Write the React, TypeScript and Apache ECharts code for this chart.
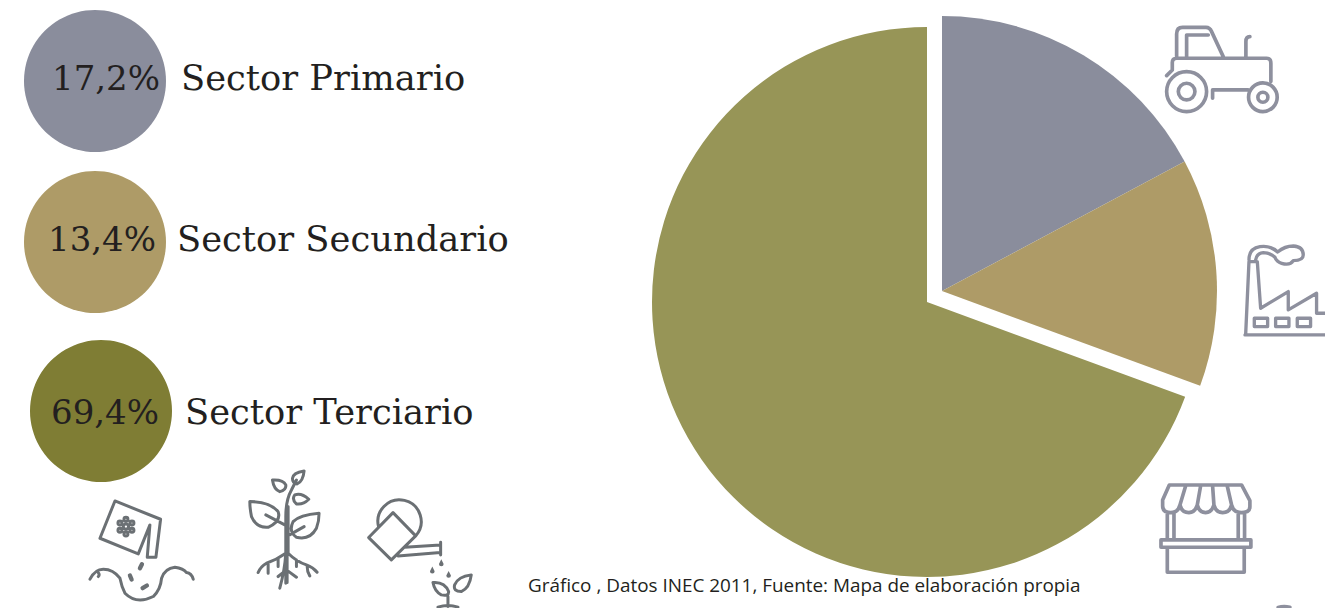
import React, { useEffect, useRef } from "react";
import * as echarts from "echarts";

const sectors = ["Sector Primario", "Sector Secundario", "Sector Terciario"];
const shares = [17.2, 13.4, 69.4];
const sliceColors = ["#8A8D9C", "#AE9B67", "#979557"];
const badgeColors = ["#8A8D9C", "#AE9B67", "#7F7D34"];
const caption = "Gráfico , Datos INEC 2011, Fuente: Mapa de elaboración propia";

const badgeX = [95, 95, 101];
const badgeY = [81, 242, 411];
const pctX = [106, 102, 105];
const labelX = [181, 177, 185];
const labelY = [77, 238, 411];

const ICON_GREY = "#8E909E";
const ICON_DARK = "#6B7074";

const tractorD =
  "M110,140 V72 Q110,52 128,52 H198 Q210,52 215,65 L250,140 M140,140 V75 H205 " +
  "M80,197 L97,180 V158 Q97,145 110,145 H380 Q393,145 393,160 V215 " +
  "M318,140 V95 Q318,80 330,80 M325,240 H218 V265 " +
  "M200,245 A60,60 0 1 1 80,245 A60,60 0 1 1 200,245 Z " +
  "M165,245 A25,25 0 1 1 115,245 A25,25 0 1 1 165,245 Z " +
  "M412,262 A43,43 0 1 1 326,262 A43,43 0 1 1 412,262 Z " +
  "M384,262 A15,15 0 1 1 354,262 A15,15 0 1 1 384,262 Z";

const factoryD =
  "M62,315 L72,95 H97 L107,235 L190,185 V240 L275,190 V250 H300 M60,315 H300 " +
  "M88,265 H128 V290 H88 Z M152,265 H192 V290 H152 Z M217,265 H257 V290 H217 Z " +
  "M72,90 Q72,55 105,50 Q135,45 158,66 Q180,48 205,48 Q235,50 235,75 Q235,92 205,92 " +
  "Q195,108 170,100 Q155,95 150,82 Q135,68 115,68 Q95,70 92,90";

const shopD =
  "M88,45 H305 L330,92 V110 Q330,128 305,128 Q280,128 275,105 Q270,128 248,128 Q228,128 222,105 " +
  "Q215,128 197,128 Q178,128 172,105 Q165,128 147,128 Q125,128 120,105 Q115,128 92,128 Q68,128 68,108 V90 Z " +
  "M137,48 L120,105 M182,48 L172,105 M218,48 L222,105 M262,48 L275,105 " +
  "M82,130 V210 M102,130 V210 M295,130 V210 M314,130 V210 " +
  "M63,210 H333 V232 H63 Z M82,232 V307 H313 V232 M415,413 Q430,408 450,412";

const seedsD =
  "M135,153 L272,208 L258,322 H232 L240,225 L205,312 L90,265 Z " +
  "M60,388 Q75,358 100,358 Q130,358 150,385 Q155,410 165,430 Q200,465 250,440 Q272,420 275,385 " +
  "Q285,355 315,352 Q340,355 350,368 Q365,370 370,388 M85,368 Q90,375 85,380 " +
  "M168,222 A8,8 0 1 1 168,238 A8,8 0 1 1 168,222 Z " +
  "M168,202 A6,6 0 1 1 168,214 A6,6 0 1 1 168,202 Z M168,246 A6,6 0 1 1 168,258 A6,6 0 1 1 168,246 Z " +
  "M186,213 A6,6 0 1 1 186,225 A6,6 0 1 1 186,213 Z M150,213 A6,6 0 1 1 150,225 A6,6 0 1 1 150,213 Z " +
  "M186,235 A6,6 0 1 1 186,247 A6,6 0 1 1 186,235 Z M150,235 A6,6 0 1 1 150,247 A6,6 0 1 1 150,235 Z";

const seedGrainsD = "M210,355 L216,343 M180,377 L185,389 M218,415 L231,407";

const plantD =
  "M648,400 V200 Q648,150 665,120 L680,90 M655,310 V170 " +
  "M540,155 Q600,155 625,185 Q635,215 595,232 Q560,235 545,200 Q540,175 540,155 Z M588,195 L645,225 " +
  "M748,190 Q690,195 670,215 Q655,245 680,262 Q720,272 740,235 Q748,215 748,190 Z M703,230 L650,260 " +
  "M703,63 Q670,68 668,85 Q668,100 682,102 Q700,95 703,63 Z M608,90 Q640,88 648,105 Q650,120 630,125 Q612,118 608,90 Z " +
  "M717,148 Q695,128 675,135 Q665,148 680,162 Q700,165 717,148 Z " +
  "M648,310 Q620,330 590,340 Q572,350 565,368 M655,310 Q680,335 710,345 Q730,352 742,367 " +
  "M648,310 Q645,360 630,415 M652,310 V398 M625,380 L650,360 L680,382 " +
  "M595,342 V370 M625,325 V350 M680,330 V350 M712,348 Q712,365 720,378";

const canD =
  "M970,188 L1038,258 L965,330 L897,263 Z M927,232 A65,65 0 1 1 1038,258 " +
  "M1005,292 L1112,285 M985,318 L1112,308 M1113,277 V315 " +
  "M1135,470 V440 M1090,398 Q1125,395 1137,425 Q1138,440 1115,435 Q1095,425 1090,398 Z " +
  "M1205,375 Q1165,380 1155,405 Q1150,425 1175,425 Q1200,415 1205,375 Z M1105,472 Q1135,462 1165,472";

const dropsD =
  "M1115,328 L1122,342 A7,7 0 1 1 1108,342 Z M1088,350 L1095,364 A7,7 0 1 1 1081,364 Z M1137,363 L1144,377 A7,7 0 1 1 1130,377 Z";

echarts.graphic.registerShape("tractorIcon", echarts.graphic.extendPath(tractorD, {}));
echarts.graphic.registerShape("factoryIcon", echarts.graphic.extendPath(factoryD, {}));
echarts.graphic.registerShape("shopIcon", echarts.graphic.extendPath(shopD, {}));
echarts.graphic.registerShape("seedsIcon", echarts.graphic.extendPath(seedsD, {}));
echarts.graphic.registerShape("grainsIcon", echarts.graphic.extendPath(seedGrainsD, {}));
echarts.graphic.registerShape("plantIcon", echarts.graphic.extendPath(plantD, {}));
echarts.graphic.registerShape("canIcon", echarts.graphic.extendPath(canD, {}));
echarts.graphic.registerShape("dropsIcon", echarts.graphic.extendPath(dropsD, {}));

const icon = (type: string, ox: number, oy: number, stroke: string, lineWidth = 9, fill = "none", lineCap = "round") => ({
  type,
  x: ox,
  y: oy,
  scaleX: 1 / 3,
  scaleY: 1 / 3,
  silent: true,
  style: { stroke, fill, lineWidth, lineCap, lineJoin: "round" },
});

export default function App() {
  const ref = useRef<HTMLDivElement>(null);

  useEffect(() => {
    document.body.style.margin = "0";
    const chart = echarts.init(ref.current!, undefined, { renderer: "svg" });

    const dataFor = (visible: boolean[]) =>
      sectors.map((name, i) => ({
        name,
        value: shares[i],
        itemStyle: { color: sliceColors[i], opacity: visible[i] ? 1 : 0 },
      }));

    const pieBase = {
      type: "pie",
      radius: 275,
      startAngle: 90,
      clockwise: true,
      silent: true,
      label: { show: false },
      labelLine: { show: false },
    };

    const badges: any[] = [];
    sectors.forEach((name, i) => {
      badges.push({
        type: "circle",
        silent: true,
        shape: { cx: badgeX[i], cy: badgeY[i], r: 71 },
        style: { fill: badgeColors[i] },
      });
      badges.push({
        type: "text",
        silent: true,
        x: pctX[i],
        y: labelY[i] + 1,
        style: {
          text: shares[i].toFixed(1).replace(".", ",") + "%",
          font: "34px 'DejaVu Serif'",
          fill: "#231F20",
          align: "center",
          verticalAlign: "middle",
        },
      });
      badges.push({
        type: "text",
        silent: true,
        x: labelX[i],
        y: labelY[i],
        style: {
          text: name,
          font: "35.3px 'DejaVu Serif'",
          fill: "#231F20",
          align: "left",
          verticalAlign: "middle",
        },
      });
    });

    chart.setOption({
      animation: false,
      backgroundColor: "#ffffff",
      series: [
        { ...pieBase, center: [927, 302], data: dataFor([false, false, true]) },
        { ...pieBase, center: [942, 291], data: dataFor([true, true, false]) },
      ],
      graphic: {
        elements: [
          ...badges,
          {
            type: "text",
            silent: true,
            x: 528,
            y: 585,
            style: {
              text: caption,
              font: "18.9px 'Open Sans'",
              fill: "#231F20",
              align: "left",
              verticalAlign: "middle",
            },
          },
          icon("tractorIcon", 1140, 10, ICON_GREY, 11),
          icon("factoryIcon", 1225, 230, ICON_GREY, 10),
          icon("shopIcon", 1140, 470, ICON_GREY, 11),
          icon("seedsIcon", 70, 450, ICON_DARK),
          icon("grainsIcon", 70, 450, ICON_DARK, 13),
          icon("plantIcon", 70, 450, ICON_DARK),
          icon("canIcon", 70, 450, ICON_DARK),
          icon("dropsIcon", 70, 450, "none", 0, ICON_DARK),
        ],
      },
    });

    return () => chart.dispose();
  }, []);

  return <div ref={ref} style={{ width: 1325, height: 608, position: "absolute", left: 0, top: 0, overflow: "hidden" }} />;
}
